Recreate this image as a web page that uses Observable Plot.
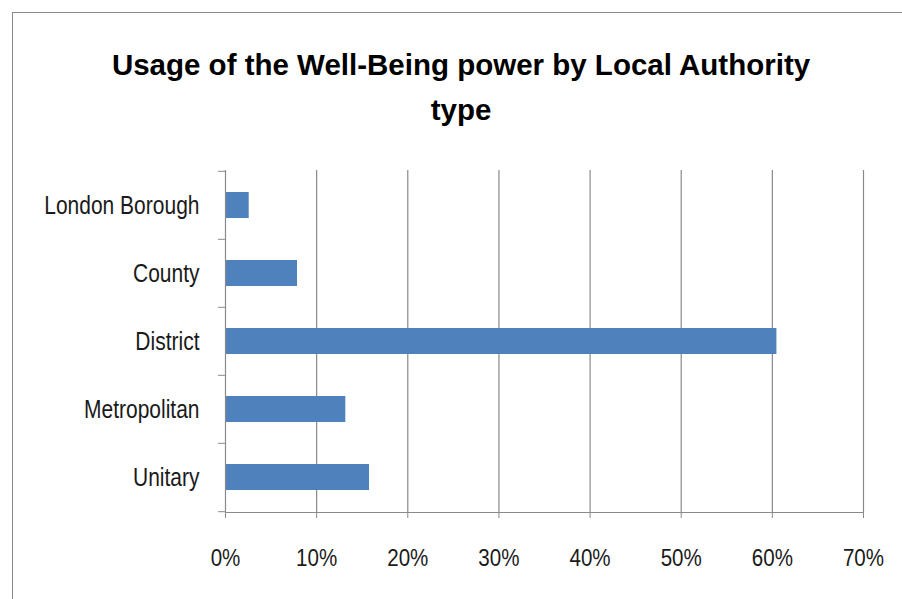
<!DOCTYPE html>
<html>
<head>
<meta charset="utf-8">
<script src="https://cdn.jsdelivr.net/npm/d3@7"></script>
<script src="https://cdn.jsdelivr.net/npm/@observablehq/plot@0.6"></script>
<style>
  html, body { margin: 0; padding: 0; background: #fff; width: 902px; height: 599px; overflow: hidden; }
  #frame { position: absolute; left: 12px; top: 12px; width: 1000px; height: 1000px;
           border-left: 1.5px solid #8a8a8a; border-top: 1.5px solid #8a8a8a; box-sizing: border-box; }
  #title { position: absolute; left: 0; width: 922px; top: 42px; text-align: center;
           font-family: "Liberation Sans", Arial, sans-serif; font-weight: bold;
           font-size: 29.5px; line-height: 45px; color: #000; }
  #chart { position: absolute; left: 0; top: 0; }
</style>
</head>
<body>
<div id="frame"></div>
<div id="chart"></div>
<div id="title">Usage of the Well-Being power by Local Authority<br>type</div>
<script>
const categories = ["London Borough", "County", "District", "Metropolitan", "Unitary"];
const values = [0.026, 0.079, 0.605, 0.132, 0.158];
const xTicks = [0, 0.1, 0.2, 0.3, 0.4, 0.5, 0.6, 0.7];

const data = categories.map((c, i) => ({category: c, value: values[i]}));

const W = 902, H = 599, MT = 170, MB = 87, ML = 225, MR = 39;
const halfStep = (H - MT - MB) / categories.length / 2;
const gray = "#8a8a8a";
const pct = d3.format(".0%");

const chart = Plot.plot({
  width: W, height: H,
  marginTop: MT, marginBottom: MB, marginLeft: ML, marginRight: MR,
  style: {fontFamily: "'Liberation Sans', Arial, sans-serif", background: "transparent", color: "#000"},
  x: {domain: [0, 0.7], ticks: xTicks, tickFormat: pct},
  y: {domain: categories, paddingInner: 0.62, paddingOuter: 0.31},
  marks: [
    Plot.ruleX(xTicks.slice(1), {stroke: gray, strokeWidth: 1.2}),
    Plot.barX(data, {x: "value", y: "category", fill: "#4F81BD"}),
    Plot.ruleX([0], {stroke: gray, strokeWidth: 1.2}),
    Plot.frame({anchor: "bottom", stroke: gray, strokeWidth: 1.2}),
    Plot.axisX({ticks: xTicks, tickFormat: pct, tickSize: 6, tickPadding: 30.5, fontSize: 24.5, stroke: gray, fill: "#1a1a1a", label: null}),
    Plot.axisY({tickSize: 0, tickPadding: 26, fontSize: 25, fill: "#1a1a1a", label: null}),
    Plot.axisY({tickSize: 7, tickFormat: () => "", dy: -halfStep, stroke: gray, label: null}),
    Plot.axisY({ticks: [categories[categories.length - 1]], tickSize: 7, tickFormat: () => "", dy: halfStep, stroke: gray, label: null})
  ]
});

// Condense the Arial-metric text horizontally to mimic the narrow original face
chart.querySelectorAll("text").forEach(t => {
  const tr = t.getAttribute("transform");
  if (tr) t.setAttribute("transform", tr + " scale(0.84,1)");
});

document.getElementById("chart").appendChild(chart);
</script>
</body>
</html>
